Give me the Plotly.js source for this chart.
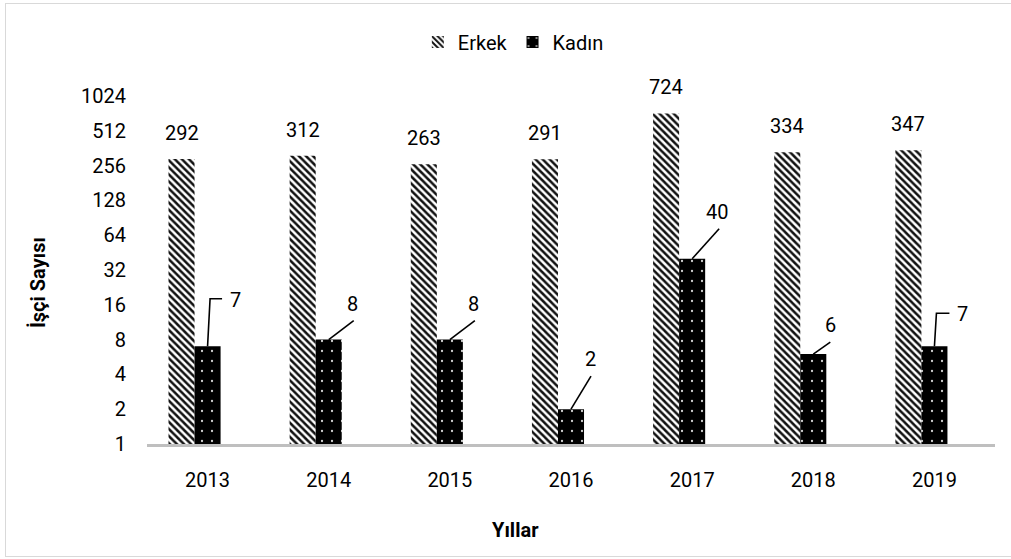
<!DOCTYPE html>
<html>
<head>
<meta charset="utf-8">
<script src="https://cdn.plot.ly/plotly-3.0.1.min.js"></script>
<style>
  html, body { margin: 0; padding: 0; background: #fff; }
  #wrap { position: relative; width: 1011px; height: 559px; }
  #chart { position: absolute; left: 0; top: 0; width: 1011px; height: 559px; }
  #frame { position: absolute; left: 5px; top: 3px; width: 1008px; height: 554px;
           border: 1.5px solid #D9D9D9; box-sizing: border-box; pointer-events: none; }
</style>
</head>
<body>
<div id="wrap">
  <div id="chart"></div>
  <div id="frame"></div>
</div>
<script>
// ---- data ----
const years = ['2013', '2014', '2015', '2016', '2017', '2018', '2019'];
const erkek = [292, 312, 263, 291, 724, 334, 347];
const kadin = [7, 8, 8, 2, 40, 6, 7];
const yTickVals = [1, 2, 4, 8, 16, 32, 64, 128, 256, 512, 1024];
const yTickText = ['1', '2', '4', '8', '16', '32', '64', '128', '256', '512', '1024'];
const seriesNames = ['Erkek', 'Kadın'];
const xTitle = 'Yıllar';
const yTitle = 'İşçi Sayısı';

// ---- label layout (pixel offsets, up = positive) ----
const kadinLabelOffset = [[28, 46], [23.5, 36], [23.5, 36], [19, 50], [25, 47], [17, 29], [28, 32]];
const kadinLeaderPath = [
  'M0,0L2.5,47.5L14.5,47.5', 'M0,0L25,19', 'M0,0L25,19', 'M0,0L20,33',
  'M0,0L27,30', 'M0,0L17,12', 'M0,0L2,33L15,33'
];

const FONT = 'Roboto, "Noto Sans", sans-serif';
const W = 0.215; // bar width in category units

const traces = [
  {
    type: 'bar', name: seriesNames[0], x: years, y: erkek,
    width: W, offset: -1.5 * W,
    marker: { color: '#000', line: { width: 0 },
      pattern: { shape: '\\', fgcolor: '#111', bgcolor: '#fff', size: 5, solidity: 0.5 } },
    hoverinfo: 'x+y'
  },
  {
    type: 'bar', name: seriesNames[1], x: years, y: kadin,
    width: W, offset: -0.5 * W,
    marker: { color: '#000', line: { width: 0 },
      pattern: { shape: '.', fgcolor: '#cfcfcf', bgcolor: '#000', size: 10, solidity: 0.04 } },
    hoverinfo: 'x+y'
  }
];

const annotations = [];
const shapes = [];
erkek.forEach((v, i) => {
  annotations.push({
    x: i - W, y: Math.log10(v), xref: 'x', yref: 'y', text: String(v),
    showarrow: false, yshift: 26, xanchor: 'center', yanchor: 'middle',
    font: { family: FONT, size: 20, color: '#000' }
  });
});
kadin.forEach((v, i) => {
  annotations.push({
    x: i, y: Math.log10(v), xref: 'x', yref: 'y', text: String(v),
    showarrow: false, xshift: kadinLabelOffset[i][0], yshift: kadinLabelOffset[i][1],
    xanchor: 'center', yanchor: 'middle',
    font: { family: FONT, size: 20, color: '#000' }
  });
  shapes.push({
    type: 'path', xref: 'x', yref: 'y', xsizemode: 'pixel', ysizemode: 'pixel',
    xanchor: i, yanchor: v, path: kadinLeaderPath[i],
    line: { color: '#000', width: 1.6 }
  });
});
annotations.push({
  xref: 'paper', yref: 'paper', x: 0.434, y: -0.247, text: '<b>' + xTitle + '</b>',
  showarrow: false, xanchor: 'center', yanchor: 'middle',
  font: { family: FONT, size: 20, color: '#000' }
});
annotations.push({
  xref: 'paper', yref: 'paper', x: -0.1285, y: 0.4626, text: '<b>' + yTitle + '</b>',
  showarrow: false, textangle: -90, xanchor: 'center', yanchor: 'middle',
  font: { family: FONT, size: 20, color: '#000' }
});

const layout = {
  width: 1011, height: 559,
  margin: { l: 147, r: 16, t: 96, b: 115 },
  paper_bgcolor: '#fff', plot_bgcolor: '#fff',
  font: { family: FONT, size: 20, color: '#000' },
  barmode: 'group',
  showlegend: true,
  legend: { orientation: 'h', x: 0.432, xanchor: 'center', y: 1.155, yanchor: 'middle',
    font: { family: FONT, size: 20, color: '#000' }, itemwidth: 30, bgcolor: 'rgba(0,0,0,0)' },
  xaxis: {
    type: 'category', range: [-0.5, 6.5], showgrid: false, zeroline: false,
    showline: true, linecolor: '#BFBFBF', linewidth: 3, ticks: '',
    tickfont: { family: FONT, size: 20, color: '#000' }, ticklabelstandoff: 16,
    fixedrange: true
  },
  yaxis: {
    type: 'log', range: [0, Math.log10(1024)], showgrid: false, zeroline: false,
    showline: false, ticks: '', tickvals: yTickVals, ticktext: yTickText,
    tickfont: { family: FONT, size: 20, color: '#000' }, ticklabelstandoff: 20,
    fixedrange: true
  },
  annotations: annotations,
  shapes: shapes
};

Plotly.newPlot('chart', traces, layout, { displayModeBar: false, staticPlot: true });
</script>
</body>
</html>
